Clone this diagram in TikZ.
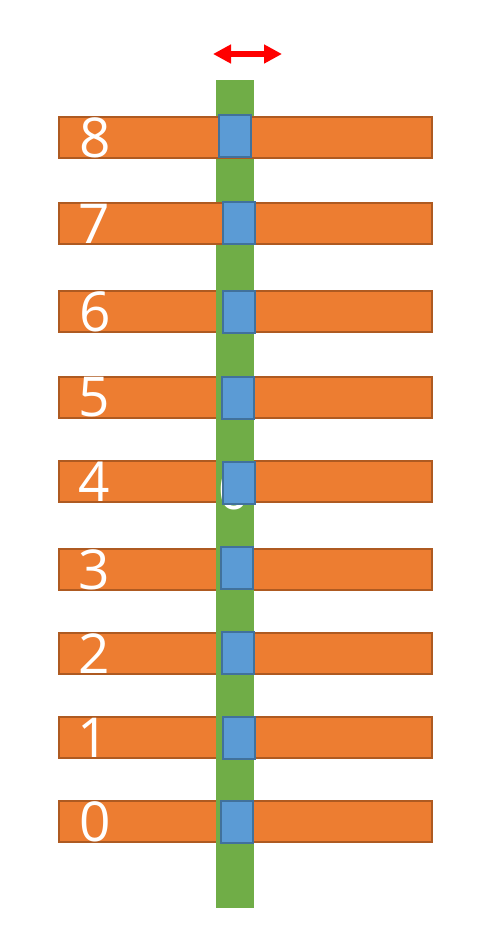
\documentclass[tikz,border=0pt]{standalone}
\usepackage{fontspec}
\usepackage{tikz}
\usetikzlibrary{arrows.meta}
\newfontfamily\digitfont{Open Sans}
\definecolor{barorange}{HTML}{ED7D31}
\definecolor{baredge}{HTML}{AE5A21}
\definecolor{railgreen}{HTML}{70AD47}
\definecolor{knobblue}{HTML}{5B9BD5}
\definecolor{knobedge}{HTML}{41719C}
\begin{document}
\begin{tikzpicture}[
  x=1pt, y=-1pt,
  bar/.style={rectangle, draw=baredge, fill=barorange, line width=2pt,
              minimum width=373pt, minimum height=41pt, inner sep=0pt},
  rail/.style={rectangle, fill=railgreen, minimum width=38pt,
               minimum height=828pt, inner sep=0pt},
  knob/.style={rectangle, draw=knobedge, fill=knobblue, line width=2pt,
               minimum width=32pt, minimum height=42pt, inner sep=0pt},
  num/.style={text=white, inner sep=0pt,
              font=\digitfont\fontsize{55}{55}\selectfont},
  slide/.style={{Triangle[length=18pt, width=18pt]}-{Triangle[length=18pt, width=18pt]},
                draw=red, line width=6pt},
]
\useasboundingbox (0,0) rectangle (480,932);
% lower bars sit under the rail
\node[bar] (bar0) at (245.5,821.5) {};
\node[bar] (bar1) at (245.5,737.5) {};
\node[bar] (bar2) at (245.5,653.5) {};
\node[bar] (bar3) at (245.5,569.5) {};
\node[bar] (bar4) at (245.5,481.5) {};
\node[bar] (bar5) at (245.5,397.5) {};
\node[bar] (bar6) at (245.5,311.5) {};
\node[rail] (rail) at (235,494) {};
% top two bars cover it
\node[bar] (bar7) at (245.5,223.5) {};
\node[bar] (bar8) at (245.5,137.5) {};
% labels
\node[num] (lab0) at (95,821.5) {0};
\node[num] (lab1) at (93,737.5) {1};
\node[num] (lab2) at (94,653.5) {2};
\node[num] (lab3) at (94,569.5) {3};
\node[num] (lab4) at (94,481.5) {4};
\node[num] (lab5) at (94,397.5) {5};
\node[num] (lab6) at (95,311.5) {6};
\node[num] (lab7) at (94,223.5) {7};
\node[num] (lab8) at (95,137.5) {8};
\node[num] (hidden) at (234,490) {0};
% sliders
\node[knob] (knob0) at (236.5,822) {};
\node[knob] (knob1) at (239,738) {};
\node[knob] (knob2) at (238,653) {};
\node[knob] (knob3) at (237,568) {};
\node[knob] (knob4) at (238.5,482.5) {};
\node[knob] (knob5) at (238,398) {};
\node[knob] (knob6) at (238.5,312) {};
\node[knob] (knob7) at (238.5,223) {};
\node[knob] (knob8) at (235,135.5) {};
% motion
\coordinate (slideL) at (213,54);
\coordinate (slideR) at (282,54);
\draw[slide] (slideL) -- (slideR);
\end{tikzpicture}
\end{document}
